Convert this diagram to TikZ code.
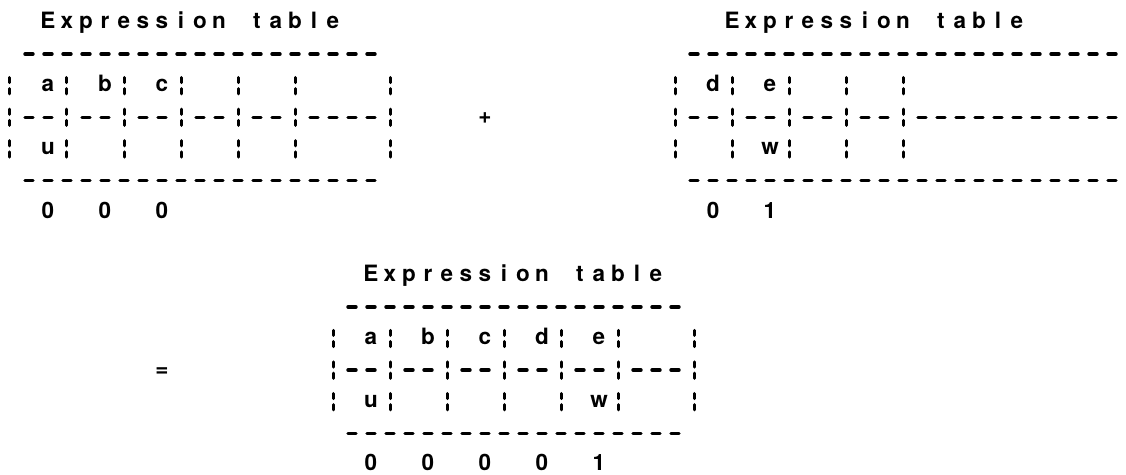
\documentclass[tikz,border=0pt]{standalone}
\usepackage{fontspec}
\newfontfamily\asciifont{TeX Gyre Heros}

% one character cell of the fixed-pitch layout
\newlength\colw
\setlength\colw{9.5pt}

\tikzset{
  glyphstroke/.style={line cap=round, draw=black},
  barglyph/.pic={\draw[glyphstroke, line width=1.5pt]
      (0pt,1.5pt) -- (0pt,4.1pt) (0pt,-1.5pt) -- (0pt,-4.1pt);},
  dashglyph/.pic={\draw[glyphstroke, line width=1.7pt]
      (-2pt,0pt) -- (2pt,0pt);},
  gtext/.style={inner sep=0pt, outer sep=0pt, yshift=-3pt,
      font=\asciifont\bfseries\fontsize{11.25pt}{13pt}\selectfont},
  cell/.style={gtext, anchor=base},
  line/.style={gtext, anchor=base west},
}

\ExplSyntaxOn
\int_new:N \l__ascii_col_int
% a string set in fixed-width cells; a dot leaves its cell empty
\NewDocumentCommand \gridtext { m }
  {
    \str_map_inline:nn {#1}
      {
        \str_if_eq:nnTF {##1} {.}
          { \hbox_to_wd:nn {\colw} {} }
          { \makebox[\colw][c]{##1} }
      }
  }
% one row of a table: | is a broken bar, - a dash, . an empty cell,
% anything else a letter
\NewDocumentCommand \asciirow { m m m }
  {
    \int_set:Nn \l__ascii_col_int {#1}
    \str_map_inline:nn {#3}
      {
        \str_case:nnF {##1}
          {
            { | } { \pic ~ at ~ (\int_use:N \l__ascii_col_int , #2) {barglyph}; }
            { - } { \pic ~ at ~ (\int_use:N \l__ascii_col_int , #2) {dashglyph}; }
            { . } { }
          }
          {
            \node[cell] (c\int_use:N \l__ascii_col_int r#2)
              ~ at ~ (\int_use:N \l__ascii_col_int , #2) {##1};
          }
        \int_incr:N \l__ascii_col_int
      }
  }
\ExplSyntaxOff

\begin{document}
\begin{tikzpicture}[x=9.5pt, y=-15.8pt]
\path[fill=white, use as bounding box] (-0.5263,-0.7120) rectangle (58.7368,14.3196);

% first operand
\node[line] (title1) at (1.5,0) {\gridtext{Expression table}};
\asciirow{1}{1}{-------------------}
\asciirow{0}{2}{|.a|.b|.c|..|..|....|}
\asciirow{0}{3}{|--|--|--|--|--|----|}
\asciirow{0}{4}{|.u|..|..|..|..|....|}
\asciirow{1}{5}{-------------------}
\node[line] (bits1) at (1.5,6) {\gridtext{0..0..0}};

\node[cell] (plus) at (25,3) {+};

% second operand
\node[line] (title2) at (37.5,0) {\gridtext{Expression table}};
\asciirow{36}{1}{-----------------------}
\asciirow{35}{2}{|.d|.e|..|..|}
\asciirow{35}{3}{|--|--|--|--|-----------}
\asciirow{35}{4}{|..|.w|..|..|}
\asciirow{36}{5}{-----------------------}
\node[line] (bits2) at (36.5,6) {\gridtext{0..1}};

\node[cell] (equals) at (8,11) {=};

% result
\node[line] (title3) at (18.5,8) {\gridtext{Expression table}};
\asciirow{18}{9}{------------------}
\asciirow{17}{10}{|.a|.b|.c|.d|.e|...|}
\asciirow{17}{11}{|--|--|--|--|--|---|}
\asciirow{17}{12}{|.u|..|..|..|.w|...|}
\asciirow{18}{13}{------------------}
\node[line] (bits3) at (18.5,14) {\gridtext{0..0..0..0..1}};
\end{tikzpicture}
\end{document}
